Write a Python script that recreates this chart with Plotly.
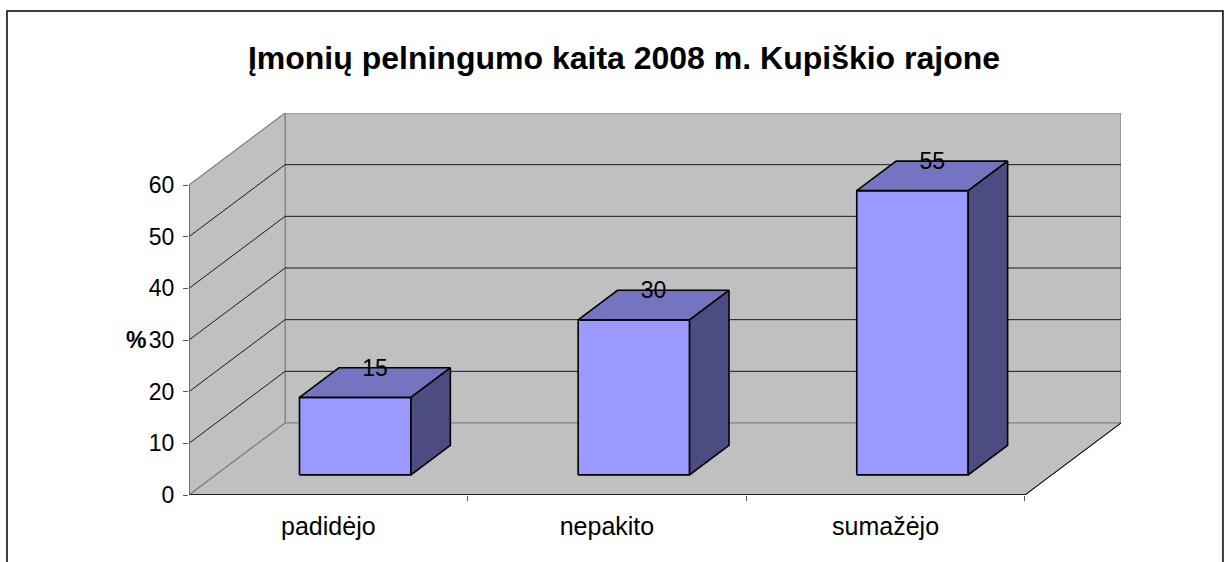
import plotly.graph_objects as go

# ---- data ----
categories = ["padidėjo", "nepakito", "sumažėjo"]
values = [15, 30, 55]
y_ticks = [0, 10, 20, 30, 40, 50, 60]
title_text = "Įmonių pelningumo kaita 2008 m. Kupiškio rajone"
y_title = "%"

# ---- style / geometry ----
FONT = "Arial, 'Liberation Sans', sans-serif"
DX, DY = 0.3449, 13.935        # oblique depth vector (x in category units, y in value units)
F0, F1 = 0.28, 0.69            # bar front/back depth fractions
BW = 0.40                      # bar width (category units)
YMAX = 60
NCAT = len(categories)
WALL = "#C0C0C0"
EDGE = "#808080"
FRONT, TOP, SIDE = "#9999FF", "#7474C0", "#4C4C80"

fig = go.Figure()

def poly(xs, ys, fill, line_color, line_width):
    fig.add_trace(go.Scatter(
        x=xs + [xs[0]], y=ys + [ys[0]], mode="lines", fill="toself",
        fillcolor=fill, line=dict(color=line_color, width=line_width),
        hoverinfo="skip", showlegend=False))

def seg(xs, ys, color, width):
    fig.add_trace(go.Scatter(x=xs, y=ys, mode="lines",
                             line=dict(color=color, width=width),
                             hoverinfo="skip", showlegend=False))

# walls and floor
poly([DX, NCAT + DX, NCAT + DX, DX], [DY, DY, YMAX + DY, YMAX + DY], WALL, EDGE, 1.2)
poly([0, DX, DX, 0], [0, DY, YMAX + DY, YMAX], WALL, EDGE, 1.2)
poly([0, NCAT, NCAT + DX, DX], [0, 0, DY, DY], WALL, EDGE, 1.2)

# gridlines
for v in y_ticks[1:-1]:
    seg([0, DX, NCAT + DX], [v, v + DY, v + DY], "#1a1a1a", 1)

# floor edges
seg([NCAT, NCAT + DX], [0, DY], "#000000", 1)
seg([0, NCAT], [0, 0], "#202020", 2)
seg([0, 0], [0, YMAX], "#555555", 1.2)

# bars (front, top, side)
for i, v in enumerate(values):
    xl = i + 0.5 - BW / 2
    xr = i + 0.5 + BW / 2
    poly([xl + F0 * DX, xr + F0 * DX, xr + F0 * DX, xl + F0 * DX],
         [F0 * DY, F0 * DY, v + F0 * DY, v + F0 * DY], FRONT, "#000000", 1.6)
    poly([xl + F0 * DX, xr + F0 * DX, xr + F1 * DX, xl + F1 * DX],
         [v + F0 * DY, v + F0 * DY, v + F1 * DY, v + F1 * DY], TOP, "#000000", 1.6)
    poly([xr + F0 * DX, xr + F1 * DX, xr + F1 * DX, xr + F0 * DX],
         [F0 * DY, F1 * DY, v + F1 * DY, v + F0 * DY], SIDE, "#000000", 1.6)

# data labels
fig.add_trace(go.Scatter(
    x=[i + 0.5 + DX * (F0 + F1) / 2 for i in range(NCAT)],
    y=[v + F1 * DY - 0.4 for v in values],
    mode="text", text=[str(v) for v in values], textposition="middle center",
    textfont=dict(family=FONT, size=23, color="#000000"),
    hoverinfo="skip", showlegend=False))

# y-axis title
fig.add_annotation(x=-0.044, xref="paper", y=30, yref="y", text="<b>%s</b>" % y_title,
                   showarrow=False, xanchor="right", yanchor="middle",
                   font=dict(family=FONT, size=23, color="#000000"))

# outer chart border
fig.add_shape(type="rect", xref="paper", yref="paper", x0=-0.1953, x1=1.1094,
              y0=-0.3, y1=1.267, line=dict(color="#000000", width=1.5), layer="below")

fig.update_layout(
    width=1227, height=562, autosize=False,
    margin=dict(l=189, r=106, t=113, b=67),
    paper_bgcolor="#FFFFFF", plot_bgcolor="#FFFFFF",
    showlegend=False,
    title=dict(text="<b>%s</b>" % title_text, xref="container", yref="container",
               x=624 / 1227, y=1 - 58 / 562, xanchor="center", yanchor="middle",
               font=dict(family=FONT, size=32, color="#000000")),
    xaxis=dict(range=[0, NCAT + DX], showgrid=False, zeroline=False, showline=False,
               tickvals=[i + 0.5 for i in range(NCAT)], ticktext=categories,
               ticks="", ticklabelstandoff=14,
               tickfont=dict(family=FONT, size=25, color="#000000"),
               minor=dict(tickvals=list(range(1, NCAT + 1)), ticks="outside",
                          ticklen=5, tickcolor="#555555", tickwidth=1.2),
               fixedrange=True),
    yaxis=dict(range=[0, YMAX + DY], showgrid=False, zeroline=False, showline=False,
               tickvals=y_ticks, ticks="outside", ticklen=5, tickcolor="#555555",
               tickwidth=1.2, ticklabelstandoff=4,
               tickfont=dict(family=FONT, size=23, color="#000000"),
               fixedrange=True),
)

fig.write_html("out.html", config={"displayModeBar": False},
               post_script="document.body.style.margin='0px';")
